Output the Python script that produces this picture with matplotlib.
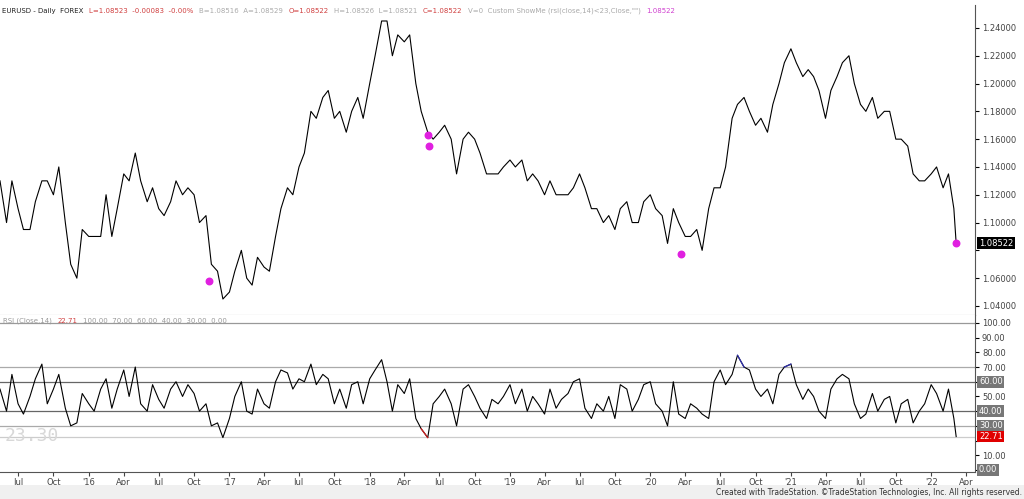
import matplotlib
matplotlib.use("Agg")
import matplotlib.pyplot as plt
import matplotlib.dates as mdates
import numpy as np
import pandas as pd

price = [1.13,1.10,1.13,1.11,1.095,1.095,1.115,1.13,1.13,1.12,1.14,1.10,1.07,1.06,1.095,
 1.09,1.09,1.09,1.12,1.09,1.11,1.135,1.13,1.15,1.13,1.115,1.125,1.11,1.105,1.115,1.13,1.12,1.125,1.12,1.10,1.105,1.07,1.065,1.045,
 1.05,1.065,1.08,1.06,1.055,1.075,1.068,1.065,1.09,1.11,1.125,1.12,1.14,1.15,1.18,1.175,1.19,1.195,1.175,1.18,1.165,1.18,1.19,1.175,
 1.20,1.22,1.245,1.245,1.22,1.235,1.23,1.235,1.20,1.18,1.165,1.16,1.165,1.17,1.16,1.135,1.16,1.165,1.16,1.15,1.135,1.135,1.135,1.14,
 1.145,1.14,1.145,1.13,1.135,1.13,1.12,1.13,1.12,1.12,1.12,1.125,1.135,1.125,1.11,1.11,1.10,1.105,1.095,1.11,1.115,1.10,1.10,1.115,
 1.12,1.11,1.105,1.085,1.11,1.10,1.09,1.09,1.095,1.08,1.11,1.125,1.125,1.14,1.175,1.185,1.19,1.18,1.17,1.175,1.165,1.185,1.20,1.215,
 1.225,1.215,1.205,1.21,1.205,1.195,1.175,1.195,1.205,1.215,1.22,1.20,1.185,1.18,1.19,1.175,1.18,1.18,1.16,1.16,1.155,1.135,1.13,1.13,
 1.135,1.14,1.125,1.135,1.11,1.085]
rsi = [55,40,65,45,38,50,62,72,45,55,65,42,30,32,52,
 45,40,55,62,42,55,68,50,70,45,40,58,48,42,55,60,50,58,52,40,45,30,32,22,
 35,50,60,40,38,55,45,42,60,68,66,55,62,60,72,58,65,62,45,55,42,58,60,45,
 62,68,75,60,40,58,52,62,35,28,22,45,50,55,45,30,55,58,50,42,35,48,45,50,
 58,45,55,40,50,45,38,55,42,48,52,60,62,42,35,45,40,50,35,58,55,40,48,58,
 60,45,40,30,60,38,35,45,42,38,35,60,68,58,65,78,70,68,55,50,55,45,65,70,
 72,58,48,55,50,40,35,55,62,65,62,45,35,38,52,40,48,50,32,45,48,32,40,45,
 58,52,40,55,35,22.71]
dates = ([pd.Timestamp("2015-05-15")] + list(pd.date_range("2015-06-01", "2022-03-01", freq="SMS"))
         + [pd.Timestamp("2022-03-07")])
dot_dates = [pd.Timestamp("2016-11-08"), pd.Timestamp("2018-06-01"), pd.Timestamp("2018-06-04"),
             pd.Timestamp("2020-03-20"), pd.Timestamp("2022-03-07")]
dot_vals = [1.058, 1.163, 1.155, 1.0775, 1.085]

price = np.array(price); rsi = np.array(rsi)
fig = plt.figure(figsize=(10.24, 4.99), dpi=100)
fig.patch.set_facecolor("white")
W, H = 1024, 499
ax1 = fig.add_axes([0, 1-315/H, 975/W, (315-5)/H])
ax2 = fig.add_axes([0, 1-472/H, 975/W, (472-315)/H], sharex=ax1)
xmin, xmax = pd.Timestamp("2015-05-15"), pd.Timestamp("2022-04-25")

ax1.plot(dates, price, color="black", lw=0.8)
ax1.scatter(dot_dates, dot_vals, color="#e020e0", s=22, zorder=5)
ax1.set_ylim(1.0335, 1.2565)
ax1.set_xlim(xmin, xmax)
ax1.yaxis.tick_right()
pt = np.arange(1.04, 1.25, 0.02)
ax1.set_yticks(pt)
ax1.set_yticklabels([("" if abs(v-1.08) < 1e-6 else f"{v:.5f}") for v in pt], fontsize=6, color="#444")
ax1.tick_params(axis="x", length=0, labelbottom=False)
ax1.tick_params(axis="y", length=3, direction="out", pad=2)
ax1.text(1.004, 1.08522, "1.08522", transform=ax1.get_yaxis_transform(), fontsize=6, color="white",
         va="center", bbox=dict(fc="black", ec="none", pad=1))
hdr = [("EURUSD - Daily  FOREX", "#222"), ("L=1.08523  -0.00083  -0.00%", "#d04040"),
       ("B=1.08516  A=1.08529", "#aaaaaa"), ("O=1.08522", "#d04040"),
       ("H=1.08526  L=1.08521", "#aaaaaa"), ("C=1.08522", "#d04040"),
       ("V=0  Custom ShowMe (rsi(close,14)<23,Close,\"\")", "#aaaaaa"), ("1.08522", "#d040d0")]
prev = None
for t, c in hdr:
    if prev is None:
        prev = ax1.text(0.002, 0.99, t, transform=ax1.transAxes, fontsize=5, va="top", color=c)
    else:
        prev = ax1.annotate(t, xy=(1, 0), xycoords=prev, xytext=(4, 0), textcoords="offset points",
                            fontsize=5, va="bottom", color=c)

ax2.plot(dates, rsi, color="black", lw=0.8)
ax2.plot(dates, np.where(rsi <= 30, rsi, np.nan), color="#d02020", lw=0.9)
ax2.plot(dates, np.where(rsi >= 70, rsi, np.nan), color="#3030b0", lw=0.9)
for lv, c in [(100, "#999"), (70, "#aaa"), (60, "#666"), (40, "#666"), (30, "#aaa"), (22.71, "#ccc")]:
    ax2.axhline(lv, color=c, lw=0.9, zorder=0)
ax2.set_ylim(-1.4, 105.4)
ax2.yaxis.tick_right()
rt = np.arange(0, 101, 10)
ax2.set_yticks(rt)
ax2.set_yticklabels([("" if v in (0, 20, 30, 40, 60) else f"{v:.2f}") for v in rt], fontsize=6, color="#444")
ax2.tick_params(axis="y", length=3, direction="out", pad=2)
for lv, fc in [(60, "#777"), (40, "#777"), (30, "#777"), (0, "#777"), (22.71, "#e00000")]:
    ax2.text(1.004, lv, f"{lv:.2f}", transform=ax2.get_yaxis_transform(), fontsize=6, color="white",
             va="center", bbox=dict(fc=fc, ec="none", pad=1))
r1 = ax2.text(0.003, 0.985, "RSI (Close,14)", transform=ax2.transAxes, fontsize=5, va="top", color="#999")
r2 = ax2.annotate("22.71", xy=(1, 0), xycoords=r1, xytext=(4, 0), textcoords="offset points",
                  fontsize=5, va="bottom", color="#d04040")
ax2.annotate("100.00  70.00  60.00  40.00  30.00  0.00", xy=(1, 0), xycoords=r2, xytext=(4, 0),
             textcoords="offset points", fontsize=5, va="bottom", color="#999")
ax2.text(0.005, 23.3, "23.30", fontsize=13, color="#d8d8d8", family="DejaVu Sans Mono",
         transform=ax2.get_yaxis_transform(), va="center")

ax2.xaxis.set_major_locator(mdates.MonthLocator(bymonth=[1, 4, 7, 10]))
def fmt(x, pos):
    d = mdates.num2date(x)
    return f"'{d.year % 100:02d}" if d.month == 1 else d.strftime("%b")
ax2.xaxis.set_major_formatter(plt.FuncFormatter(fmt))
ax2.tick_params(axis="x", labelsize=6, length=3, colors="#444", pad=1)
for a in (ax1, ax2):
    for s in ("top", "left"):
        a.spines[s].set_visible(False)
    a.spines["right"].set_color("#555"); a.spines["bottom"].set_color("#555")
ax1.spines["bottom"].set_color("#999")
fig.patches.append(plt.Rectangle((0, 0), 1, 14/H, transform=fig.transFigure, fc="#f0f0f0", ec="none"))
fig.text(0.998, 0.004, "Created with TradeStation. ©TradeStation Technologies, Inc. All rights reserved.",
         ha="right", va="bottom", fontsize=5.5, color="#333")
fig.savefig("out.png", dpi=100)
